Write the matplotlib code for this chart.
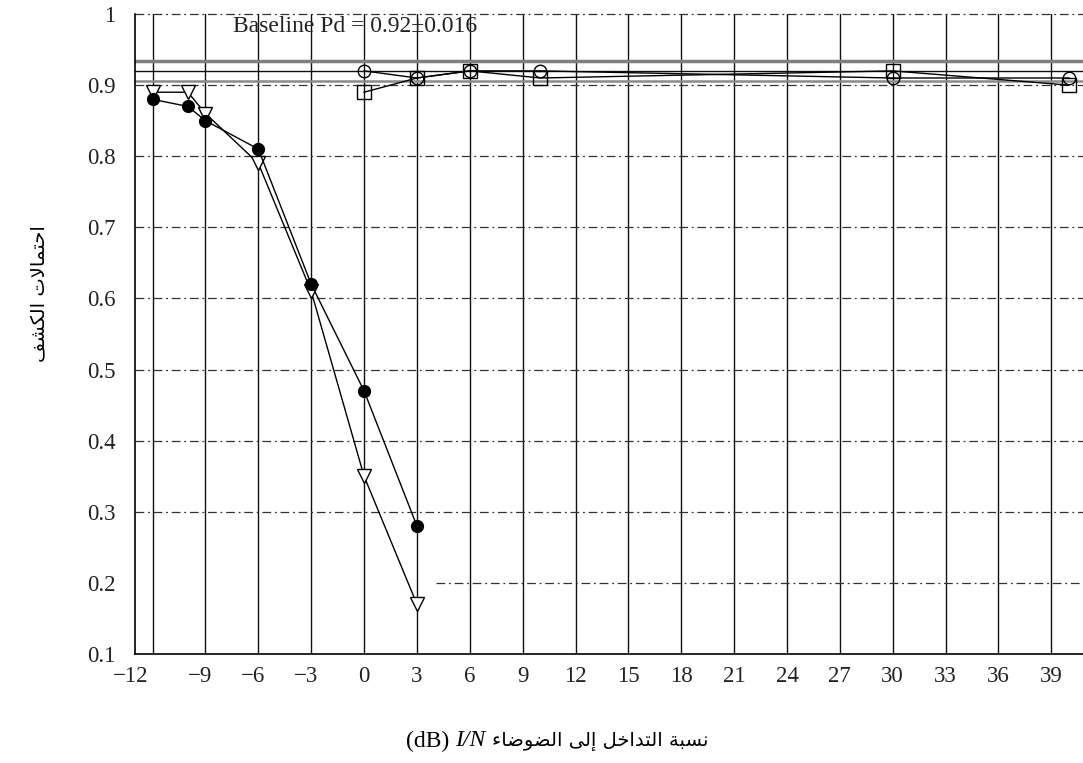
import matplotlib
matplotlib.use("Agg")
import matplotlib.pyplot as plt
import matplotlib.transforms as mtransforms

# ---------------- data ----------------
x_low = [-12, -10, -9, -6, -3, 0, 3]
pd_filled = [0.88, 0.87, 0.85, 0.81, 0.62, 0.47, 0.28]
pd_triangle = [0.89, 0.89, 0.86, 0.79, 0.61, 0.35, 0.17]

x_high = [0, 3, 6, 10, 30, 40]
pd_circle = [0.92, 0.91, 0.92, 0.92, 0.91, 0.91]
pd_square = [0.89, 0.91, 0.92, 0.91, 0.92, 0.90]

baseline_mid = 0.92
baseline_upper = 0.934
baseline_lower = 0.906
baseline_text = "Baseline Pd = 0.92\u00b10.016"

x_ticks = list(range(-12, 40, 3))
x_tick_labels = [str(v).replace("-", "\u2212") for v in x_ticks]
y_ticks = [0.1, 0.2, 0.3, 0.4, 0.5, 0.6, 0.7, 0.8, 0.9, 1.0]
y_tick_labels = ["0.1", "0.2", "0.3", "0.4", "0.5", "0.6", "0.7", "0.8", "0.9", "1"]

xlabel_words = ["نسبة", "التداخل", "إلى", "الضوضاء"]
xlabel_latin = ["I/N", "(dB)"]
ylabel_words = ["احتمالات", "الكشف"]

# ---------------- minimal Arabic shaping (presentation forms) ----------------
FORMS = {
    '\u0621': ('\uFE80', None, None, None),
    '\u0625': ('\uFE87', '\uFE88', None, None),
    '\u0627': ('\uFE8D', '\uFE8E', None, None),
    '\u0628': ('\uFE8F', '\uFE90', '\uFE91', '\uFE92'),
    '\u0629': ('\uFE93', '\uFE94', None, None),
    '\u062A': ('\uFE95', '\uFE96', '\uFE97', '\uFE98'),
    '\u062D': ('\uFEA1', '\uFEA2', '\uFEA3', '\uFEA4'),
    '\u062E': ('\uFEA5', '\uFEA6', '\uFEA7', '\uFEA8'),
    '\u062F': ('\uFEA9', '\uFEAA', None, None),
    '\u0633': ('\uFEB1', '\uFEB2', '\uFEB3', '\uFEB4'),
    '\u0634': ('\uFEB5', '\uFEB6', '\uFEB7', '\uFEB8'),
    '\u0636': ('\uFEBD', '\uFEBE', '\uFEBF', '\uFEC0'),
    '\u0641': ('\uFED1', '\uFED2', '\uFED3', '\uFED4'),
    '\u0643': ('\uFED9', '\uFEDA', '\uFEDB', '\uFEDC'),
    '\u0644': ('\uFEDD', '\uFEDE', '\uFEDF', '\uFEE0'),
    '\u0645': ('\uFEE1', '\uFEE2', '\uFEE3', '\uFEE4'),
    '\u0646': ('\uFEE5', '\uFEE6', '\uFEE7', '\uFEE8'),
    '\u0648': ('\uFEED', '\uFEEE', None, None),
    '\u0649': ('\uFEEF', '\uFEF0', None, None),
}
LAM_ALEF = {'\u0627': ('\uFEFB', '\uFEFC', None, None),
            '\u0625': ('\uFEF9', '\uFEFA', None, None)}


def shape_word(w):
    units = []
    i = 0
    while i < len(w):
        c = w[i]
        if c == '\u0644' and i + 1 < len(w) and w[i + 1] in LAM_ALEF:
            units.append(LAM_ALEF[w[i + 1]])
            i += 2
        else:
            units.append(FORMS[c])
            i += 1
    out = []
    for k, f in enumerate(units):
        iso, fin, ini, med = f
        prev_join = k > 0 and units[k - 1][2] is not None and fin is not None
        next_join = ini is not None and k + 1 < len(units) and units[k + 1][1] is not None
        if prev_join and next_join:
            out.append(med)
        elif prev_join:
            out.append(fin)
        elif next_join:
            out.append(ini)
        else:
            out.append(iso)
    return "".join(reversed(out))


def visual_rtl(words):
    return " ".join(shape_word(w) for w in reversed(words))


# ---------------- figure ----------------
W, H = 1083, 763
fig = plt.figure(figsize=(W / 100, H / 100), dpi=100)
ax_left, ax_right, ax_top, ax_bottom = 135, 1083, 14, 654
ax = fig.add_axes([ax_left / W, (H - ax_bottom) / H,
                   (ax_right - ax_left) / W, (ax_bottom - ax_top) / H])
ax.set_xlim(-13, 40.8)
ax.set_ylim(0.1, 1.0)

serif = ["Liberation Serif", "DejaVu Serif"]

# grid
for xv in x_ticks:
    ax.axvline(xv, color="#111111", lw=1.0, zorder=1)
dashdot = (0, (7, 3, 1.5, 3))
for yv in [0.3, 0.4, 0.5, 0.6, 0.7, 0.8, 0.9, 1.0]:
    ax.axhline(yv, color="#333333", lw=0.9, ls=dashdot, zorder=1, clip_on=False)
ax.plot([4.1, 40.8], [0.2, 0.2], color="#333333", lw=0.9, ls=dashdot, zorder=1)

# baseline band
ax.axhline(baseline_upper, color="#7f7f7f", lw=2.5, zorder=2)
ax.axhline(baseline_mid, color="#111111", lw=1.0, zorder=2)
ax.axhline(baseline_lower, color="#8a8a8a", lw=1.8, zorder=2)
ax.text(-7.45, 0.983, baseline_text, family=serif, fontsize=17,
        va="center", ha="left", color="#222222", zorder=3)

# series
ax.plot(x_low, pd_triangle, color="black", lw=1.0, marker="v", ms=10,
        mfc="white", mec="black", mew=1.0, zorder=4)
ax.plot(x_low, pd_filled, color="black", lw=1.0, marker="o", ms=8.5,
        mfc="black", mec="black", zorder=5)
ax.plot(x_high, pd_circle, color="black", lw=1.0, marker="o", ms=9,
        mfc="none", mec="black", mew=1.0, zorder=4)
ax.plot(x_high, pd_square, color="black", lw=1.0, marker="s", ms=9.5,
        mfc="none", mec="black", mew=1.0, zorder=4)

# spines
for s in ["top", "right"]:
    ax.spines[s].set_visible(False)
for s in ["left", "bottom"]:
    ax.spines[s].set_linewidth(1.2)
    ax.spines[s].set_color("black")

ax.set_xticks(x_ticks)
ax.set_xticklabels(x_tick_labels, family=serif, fontsize=16.5)
ax.set_yticks(y_ticks)
ax.set_yticklabels(y_tick_labels, family=serif, fontsize=16.5)
ax.tick_params(axis="x", length=0, pad=9, colors="#222222")
ax.tick_params(axis="y", length=0, pad=14, colors="#222222")

# shift negative labels so digits centre on the grid line
for v, lab in zip(x_ticks, ax.get_xticklabels()):
    if v == -12:
        dx = -21.6
    elif v < 0:
        dx = -5.5
    else:
        dx = 0
    if dx:
        lab.set_transform(lab.get_transform() +
                          mtransforms.ScaledTranslation(dx / 100, 0, fig.dpi_scale_trans))

# ---------------- axis labels ----------------
arab_family = ["DejaVu Sans"]
fig.canvas.draw()
renderer = fig.canvas.get_renderer()

y_lab = (H - 741) / H
fs_lab = 14
t_db = fig.text(0, y_lab, xlabel_latin[1], family=serif, fontsize=17, va="center", ha="left")
t_in = fig.text(0, y_lab, xlabel_latin[0], family=serif, fontsize=17, style="italic",
                va="center", ha="left")
t_ar = fig.text(0, y_lab, visual_rtl(xlabel_words), family=arab_family, fontsize=fs_lab,
                va="center", ha="left")
space = 6
widths = [t.get_window_extent(renderer).width for t in (t_db, t_in, t_ar)]
total = sum(widths) + 2 * space
x0 = 557 - total / 2
for t, wdt in zip((t_db, t_in, t_ar), widths):
    t.set_x(x0 / W)
    x0 += wdt + space

fig.text(40 / W, (H - 294) / H, visual_rtl(ylabel_words), family=arab_family,
         fontsize=fs_lab, rotation=90, va="center", ha="center")

fig.savefig("out.png", dpi=100)
